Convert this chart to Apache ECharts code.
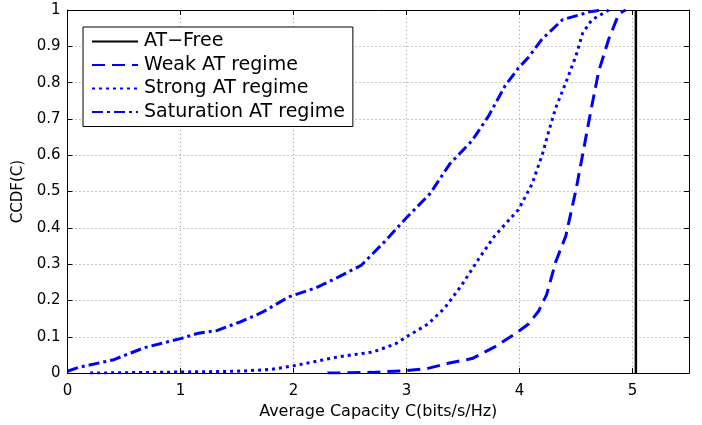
<!DOCTYPE html>
<html><head><meta charset="utf-8">
<script src="https://cdn.jsdelivr.net/npm/echarts@6/dist/echarts.min.js"></script>
<style>html,body{margin:0;padding:0;background:#fff}#c{width:702px;height:425px}</style>
</head><body><div id="c"></div>
<script>
const seriesNames = ['AT\u2212Free', 'Weak AT regime', 'Strong AT regime', 'Saturation AT regime'];
const xTicks = [0, 1, 2, 3, 4, 5];
const atX = [5.03, 5.03];
const atY = [0, 1];
const wkX = [2.3, 2.7, 3.0, 3.19, 3.37, 3.58, 3.78, 3.96, 4.08, 4.17, 4.24, 4.32, 4.41, 4.5, 4.57, 4.63, 4.70, 4.79, 4.88, 4.94];
const wkY = [0, 0.002, 0.007, 0.013, 0.027, 0.04, 0.072, 0.108, 0.135, 0.171, 0.216, 0.306, 0.378, 0.505, 0.62, 0.72, 0.83, 0.92, 0.99, 1.0];
const strX = [0.2, 1.0, 1.5, 1.8, 2.0, 2.4, 2.7, 2.9, 3.0, 3.19, 3.34, 3.49, 3.64, 3.78, 3.99, 4.11, 4.2, 4.26, 4.32, 4.41, 4.5, 4.56, 4.64, 4.79];
const strY = [0, 0.003, 0.005, 0.01, 0.02, 0.045, 0.058, 0.08, 0.1, 0.135, 0.18, 0.243, 0.315, 0.378, 0.45, 0.52, 0.6, 0.667, 0.73, 0.8, 0.874, 0.937, 0.973, 1.0];
const satX = [0, 0.1, 0.4, 0.68, 1.0, 1.16, 1.32, 1.52, 1.72, 1.96, 2.2, 2.4, 2.6, 2.8, 3.0, 3.21, 3.385, 3.58, 3.73, 3.87, 3.99, 4.08, 4.2, 4.38, 4.62, 4.73];
const satY = [0.005, 0.016, 0.036, 0.07, 0.095, 0.11, 0.117, 0.14, 0.167, 0.21, 0.235, 0.265, 0.297, 0.36, 0.428, 0.495, 0.577, 0.64, 0.71, 0.79, 0.84, 0.87, 0.92, 0.973, 0.995, 1.0];

const zip = (xs, ys) => xs.map((x, i) => [x, ys[i]]);
const FONT = 'DejaVu Sans';
const chart = echarts.init(document.getElementById('c'), null, {renderer: 'canvas'});
const gridLine = {show: true, lineStyle: {color: '#999', type: [1, 3], width: 1}};
const axLine = {show: true, onZero: false, lineStyle: {color: '#000', width: 1}};
const tick = {show: true, inside: true, length: 5, lineStyle: {color: '#000'}};
function mk(name, xs, ys, color, type, w) {
  return {name, type: 'line', data: zip(xs, ys), symbol: 'none', showSymbol: false,
    lineStyle: {color, width: w, type, cap: 'butt'}, itemStyle: {color}, silent: true, animation: false};
}
chart.setOption({
  animation: false,
  backgroundColor: '#fff',
  textStyle: {fontFamily: FONT},
  grid: {left: 67.5, right: 13, top: 10, bottom: 45, containLabel: false},
  legend: {
    left: 83, top: 27, orient: 'vertical', padding: [5, 8, 5, 8], itemGap: 4.5,
    itemWidth: 46, itemHeight: 18, borderColor: '#000', borderWidth: 1, backgroundColor: '#fff',
    itemStyle: {opacity: 0},
    textStyle: {fontFamily: FONT, fontSize: 19, lineHeight: 18, color: '#000', padding: [0, 0, 0, 1]},
    data: seriesNames
  },
  xAxis: [
    {type: 'value', min: 0, max: 5.5, interval: 1,
      name: 'Average Capacity C(bits/s/Hz)', nameLocation: 'middle', nameGap: 25,
      nameTextStyle: {fontFamily: FONT, fontSize: 16, color: '#000'},
      axisLine: axLine, axisTick: tick, splitLine: gridLine,
      axisLabel: {fontFamily: FONT, fontSize: 15, color: '#000', margin: 11,
        formatter: v => xTicks.includes(v) ? String(v) : ''}},
    {type: 'value', position: 'top', min: 0, max: 5.5, interval: 1,
      axisLine: axLine, axisTick: tick, splitLine: {show: false}, axisLabel: {show: false}}
  ],
  yAxis: [
    {type: 'value', min: 0, max: 1, interval: 0.1,
      name: 'CCDF(C)', nameLocation: 'middle', nameGap: 41, nameRotate: 90,
      nameTextStyle: {fontFamily: FONT, fontSize: 15, color: '#000'},
      axisLine: axLine, axisTick: tick, splitLine: gridLine,
      axisLabel: {fontFamily: FONT, fontSize: 15, color: '#000', margin: 7}},
    {type: 'value', position: 'right', min: 0, max: 1, interval: 0.1,
      axisLine: axLine, axisTick: tick, splitLine: {show: false}, axisLabel: {show: false}}
  ],
  series: [
    mk(seriesNames[0], atX, atY, '#000', 'solid', 2.5),
    mk(seriesNames[1], wkX, wkY, '#0000ff', [13, 7], 3),
    mk(seriesNames[2], strX, strY, '#0000ff', [3, 4], 3),
    mk(seriesNames[3], satX, satY, '#0000ff', [11, 4, 3, 4], 3)
  ]
});
</script></body></html>
